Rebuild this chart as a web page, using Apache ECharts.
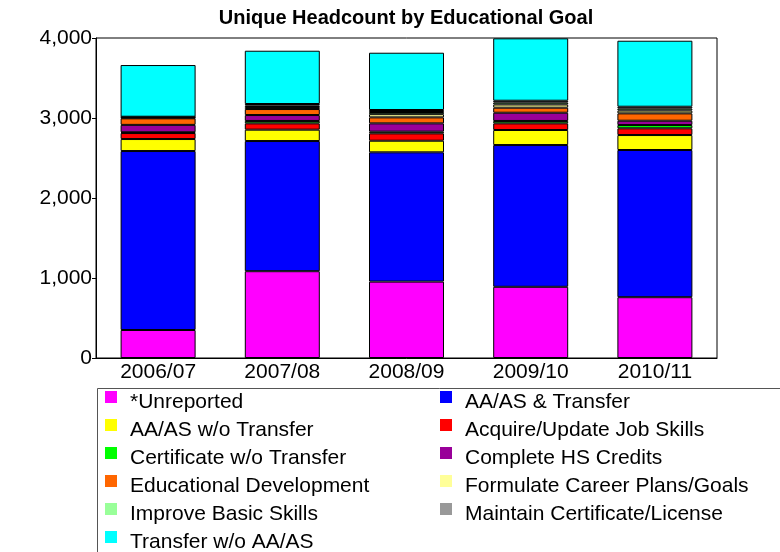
<!DOCTYPE html>
<html>
<head>
<meta charset="utf-8">
<script src="https://cdn.jsdelivr.net/npm/echarts@6/dist/echarts.min.js"></script>
<style>
  html, body { margin: 0; padding: 0; background: #fff; }
  #main { width: 780px; height: 552px; }
</style>
</head>
<body>
<div id="main"></div>
<script>
// categories (school years)
const years = ['2006/07', '2007/08', '2008/09', '2009/10', '2010/11']
const yTicks = [0, 1000, 2000, 3000, 4000]

// headcount per goal
const unreported   = [350, 1085, 955, 890, 760]
const aaTransfer   = [2237, 1627, 1616, 1772, 1840]
const aaNoTransfer = [150, 142, 145, 188, 187]
const jobSkills    = [75, 79, 92, 83, 84]
const certificate  = [10, 30, 21, 30, 41]
const hsCredits    = [92, 74, 104, 103, 54]
const eduDev       = [82, 75, 75, 63, 92]
const careerPlans  = [8, 25, 40, 40, 35]
const basicSkills  = [8, 20, 27, 25, 25]
const maintainCert = [4, 18, 25, 22, 23]
const transferNoAA = [646, 666, 716, 780, 825]

const goals = [
    { name: '*Unreported', data: unreported, color: '#FF00FF' },
    { name: 'AA/AS & Transfer', data: aaTransfer, color: '#0000FF' },
    { name: 'AA/AS w/o Transfer', data: aaNoTransfer, color: '#FFFF00' },
    { name: 'Acquire/Update Job Skills', data: jobSkills, color: '#FF0000' },
    { name: 'Certificate w/o Transfer', data: certificate, color: '#00FF00' },
    { name: 'Complete HS Credits', data: hsCredits, color: '#990099' },
    { name: 'Educational Development', data: eduDev, color: '#FF6600' },
    { name: 'Formulate Career Plans/Goals', data: careerPlans, color: '#FFFF99' },
    { name: 'Improve Basic Skills', data: basicSkills, color: '#99FF99' },
    { name: 'Maintain Certificate/License', data: maintainCert, color: '#999999' },
    { name: 'Transfer w/o AA/AS', data: transferNoAA, color: '#00FFFF' }
]

const font = 'Liberation Sans, Arial, sans-serif'
const leftNames = goals.filter((g, i) => i % 2 === 0).map(g => g.name)
const rightNames = goals.filter((g, i) => i % 2 === 1).map(g => g.name)

// swatches only (text sits a bit lower than the swatch in the original,
// so swatches and labels are two legends)
function swatchCol(left, names) {
    return {
        orient: 'vertical',
        left: left, top: 391, height: 300,
        padding: 0, itemGap: 16,
        itemWidth: 12, itemHeight: 12,
        icon: 'rect',
        selectedMode: false,
        itemStyle: { borderWidth: 0 },
        formatter: () => '',
        textStyle: { fontSize: 12, lineHeight: 12 },
        data: names
    }
}

function labelCol(left, names) {
    return {
        orient: 'vertical',
        left: left, top: 388, height: 300,
        padding: 0, itemGap: 0,
        itemWidth: 12, itemHeight: 12,
        icon: 'rect',
        selectedMode: false,
        itemStyle: { color: 'rgba(0,0,0,0)', borderWidth: 0 },
        data: names,
        textStyle: {
            fontFamily: font, fontSize: 21, color: '#000',
            lineHeight: 28, padding: [0, 0, 0, 8]
        }
    }
}

const chart = echarts.init(document.getElementById('main'))
chart.setOption({
    animation: false,
    backgroundColor: '#fff',
    color: goals.map(g => g.color),
    title: {
        text: 'Unique Headcount by Educational Goal',
        left: 406,
        textAlign: 'center',
        top: 8,
        padding: 0,
        textStyle: { fontFamily: font, fontSize: 20, fontWeight: 'bold', color: '#000' }
    },
    legend: [
        swatchCol(105, leftNames),
        swatchCol(440, rightNames),
        labelCol(105, leftNames),
        labelCol(440, rightNames)
    ],
    grid: {
        left: 96, right: 63, top: 38, bottom: 194,
        show: true, borderColor: '#000', borderWidth: 1
    },
    xAxis: {
        type: 'category',
        data: years,
        axisLine: { lineStyle: { color: '#000' } },
        axisTick: { show: false },
        axisLabel: { fontFamily: font, fontSize: 21, color: '#000', margin: 4 }
    },
    yAxis: {
        type: 'value',
        min: yTicks[0],
        max: yTicks[yTicks.length - 1],
        interval: 1000,
        axisLine: { show: true, lineStyle: { color: '#000' } },
        axisTick: { show: true, length: 4, lineStyle: { color: '#000' } },
        splitLine: { show: false },
        axisLabel: {
            fontFamily: font, fontSize: 21, color: '#000', margin: 4,
            formatter: v => v.toLocaleString('en-US')
        }
    },
    graphic: [{
        type: 'rect',
        shape: { x: 97.5, y: 388.5, width: 700, height: 200 },
        style: { fill: 'none', stroke: '#555', lineWidth: 1 },
        silent: true
    }],
    series: goals.map(g => ({
        name: g.name,
        type: 'bar',
        stack: 'total',
        barWidth: 75,
        data: g.data,
        itemStyle: { color: g.color, borderColor: '#000', borderWidth: 1 }
    }))
})
</script>
</body>
</html>
